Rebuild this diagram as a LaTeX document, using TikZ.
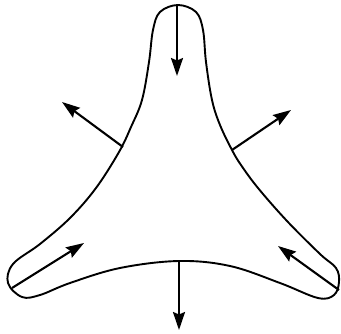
\documentclass[tikz,border=0pt]{standalone}
\usetikzlibrary{arrows.meta}
\begin{document}
\begin{tikzpicture}[x=1pt,y=-1pt,
  outline/.style={line width=1.9pt, line join=round},
  vec/.style={line width=2.1pt, -{Stealth[length=18pt,width=12pt,inset=2.5pt]}}]
\useasboundingbox (0,0) rectangle (341,333);
\draw[outline] plot[smooth cycle, tension=0.6] coordinates {
 (178,5) (160,12) (153,30) (149,62) (142,100) (131,127) (119,152) (96,188) (70,218)
 (40,244) (13,264) (8,283) (22,297) (40,295) (70,283) (120,268) (179,261)
 (230,266) (280,283) (318,298) (334,295) (339,282) (336,268) (320,254) (287,221)
 (258,188) (241,165) (232,150) (220,125) (212,100) (206,62) (203,30) (196,12)};
\coordinate (t0) at (177,5);   \coordinate (t1) at (177,76);
\coordinate (l0) at (123,147); \coordinate (l1) at (62,102);
\coordinate (r0) at (232,150); \coordinate (r1) at (291,110);
\coordinate (b0) at (179,261); \coordinate (b1) at (179,330);
\coordinate (bl0) at (12,288); \coordinate (bl1) at (84,243);
\coordinate (br0) at (339,290); \coordinate (br1) at (278,246);
\draw[vec] (t0) -- (t1);
\draw[vec] (l0) -- (l1);
\draw[vec] (r0) -- (r1);
\draw[vec] (b0) -- (b1);
\draw[vec] (bl0) -- (bl1);
\draw[vec] (br0) -- (br1);
\end{tikzpicture}
\end{document}
